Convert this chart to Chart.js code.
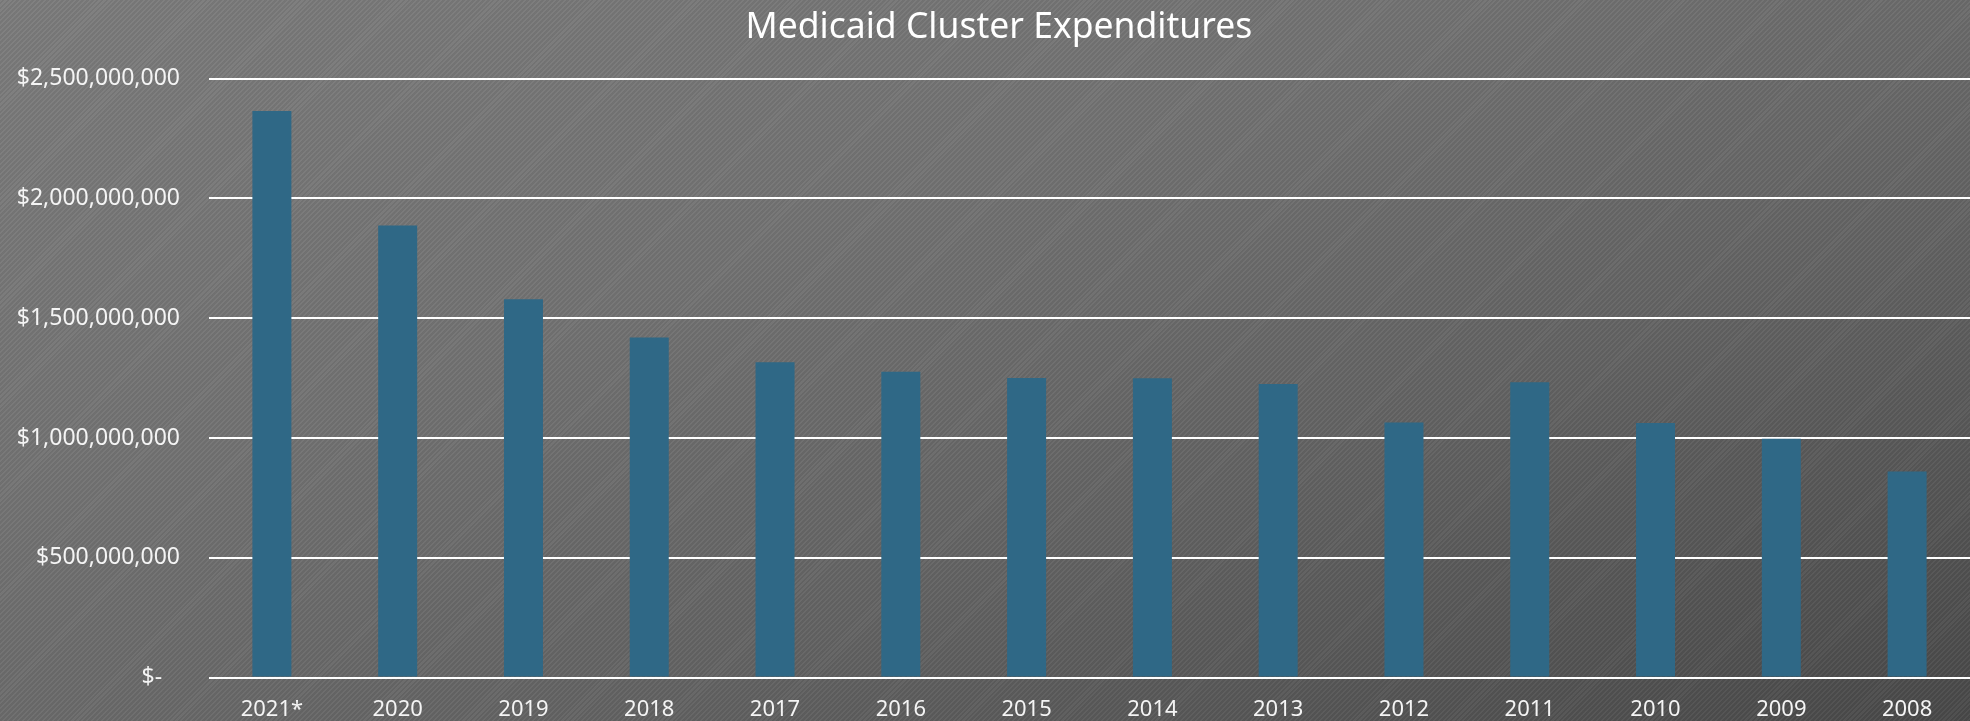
<!DOCTYPE html>
<html>
<head>
<meta charset="utf-8">
<script src="https://cdn.jsdelivr.net/npm/chart.js@4"></script>
<style>
  html, body { margin: 0; padding: 0; }
  body {
    width: 1970px; height: 721px; overflow: hidden;
    background:
      repeating-linear-gradient(135deg, rgba(255,255,255,0.04) 0px, rgba(255,255,255,0.04) 1.5px, rgba(0,0,0,0.04) 1.5px, rgba(0,0,0,0.04) 3.5px),
      linear-gradient(160deg, #7c7c7c 0%, #737373 35%, #636363 65%, #494949 100%);
  }
  #wrap { position: relative; width: 1970px; height: 721px; }
  canvas { display: block; }
</style>
</head>
<body>
<div id="wrap"><canvas id="myChart"></canvas></div>
<script>
const years = ['2021*', '2020', '2019', '2018', '2017', '2016', '2015', '2014', '2013', '2012', '2011', '2010', '2009', '2008'];

// expenditures in dollars
const expenditures = [
  2365000000, 1887000000, 1579000000, 1419000000, 1316000000, 1277000000, 1250000000,
  1249000000, 1225000000, 1065000000, 1233000000, 1063000000, 997000000, 860000000
];

const yTicks = [0, 500000000, 1000000000, 1500000000, 2000000000, 2500000000];

const data = {
  labels: years,
  datasets: [{
    label: 'Medicaid Cluster Expenditures',
    backgroundColor: '#2f6886',
    data: expenditures,
    barPercentage: 0.31,
    categoryPercentage: 1.0
  }]
};

function money(v) {
  if (v === 0) return '$-   ';
  return '$' + v.toLocaleString('en-US');
}

const config = {
  type: 'bar',
  data: data,
  options: {
    responsive: false,
    animation: false,
    layout: { padding: { left: 0, right: 0, top: 0, bottom: -21 } },
    plugins: {
      legend: { display: false },
      tooltip: { enabled: false },
      title: {
        display: true,
        // leading spaces nudge the title right like the original
        text: '   Medicaid Cluster Expenditures',
        color: '#ffffff',
        font: { family: 'Noto Sans', size: 35.5, weight: 'normal' },
        padding: { top: 7, bottom: 29 }
      }
    },
    scales: {
      x: {
        grid: { display: false, drawTicks: false },
        border: { display: false },
        ticks: {
          color: '#f4f4f4',
          font: { family: 'Noto Sans', size: 22 },
          padding: 19,
          maxRotation: 0
        }
      },
      y: {
        min: 0,
        max: 2500000000,
        afterBuildTicks: function (scale) {
          scale.ticks = yTicks.map(function (v) { return { value: v }; });
        },
        afterFit: function (scale) { scale.width = 209; },
        grid: { color: '#ffffff', lineWidth: 2, drawTicks: false },
        border: { display: false },
        ticks: {
          color: '#f4f4f4',
          font: { family: 'Noto Sans', size: 23 },
          padding: 29,
          callback: function (v) { return money(v); }
        }
      }
    }
  }
};

const canvas = document.getElementById('myChart');
canvas.width = 1970;
canvas.height = 721;
const myChart = new Chart(canvas, config);
</script>
</body>
</html>
